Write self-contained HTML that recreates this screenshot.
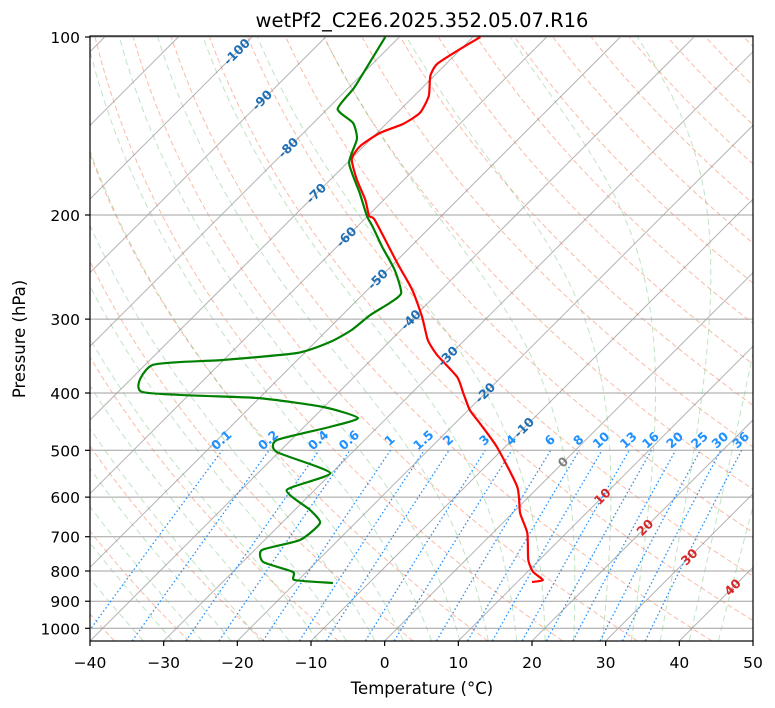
<!DOCTYPE html>
<html><head><meta charset="utf-8">
<style>
html,body{margin:0;padding:0;background:#fff;}
svg{display:block;font-family:"DejaVu Sans","Liberation Sans",sans-serif;}
</style></head>
<body>
<svg id="chart" width="775" height="708" viewBox="0 0 775 708">
<defs><clipPath id="plotclip"><rect x="90" y="36" width="663" height="605"/></clipPath></defs>
<rect x="0" y="0" width="775" height="708" fill="#fff"/>
<g id="bg" clip-path="url(#plotclip)"></g>
<g id="series" clip-path="url(#plotclip)"></g>
<g id="lbls"></g>
<rect x="90" y="36" width="663" height="605" fill="none" stroke="#000" stroke-width="1.2"/>
<g id="axes"></g>
<text x="422" y="27" text-anchor="middle" font-size="19.5">wetPf2_C2E6.2025.352.05.07.R16</text>
<text x="422" y="694" text-anchor="middle" font-size="16.5">Temperature (°C)</text>
<text transform="translate(25,339) rotate(-90)" text-anchor="middle" font-size="16.5">Pressure (hPa)</text>
</svg>
<script>
// ---- data ----
const tempPressure = [100,104.8,111.1,116.4,125.8,134.4,140.3,145.3,152.9,160.8,173.9,188.6,200.8,203.9,241.1,267.8,297.5,325.4,345.0,375.8,400.0,427.4,449.6,493.6,576.8,638.2,690.0,766.4,803.2,828.6,835.1];
const temperature  = [-69.0,-70.1,-71.2,-70.5,-68.0,-66.9,-67.7,-69.6,-70.5,-69.9,-66.5,-62.5,-59.8,-58.5,-49.6,-43.9,-38.9,-35.0,-31.7,-26.0,-23.0,-19.8,-16.7,-11.1,-2.9,1.0,4.7,8.5,10.8,13.2,12.0];
const dewPressure  = [100,115.0,122.4,132.4,139.8,148.8,163.4,183.6,200.8,209.6,226.6,247.8,271.0,281.7,295.2,313.0,328.0,342.3,351.8,358.7,398.4,407.9,422.4,440.9,456.7,480.4,503.3,546.2,583.6,630.9,663.6,709.0,737.2,772.5,803.2,828.6,838.4];
const dewpoint     = [-81.9,-80.0,-79.2,-78.6,-74.6,-71.9,-69.7,-64.2,-60.1,-57.8,-53.8,-49.0,-45.0,-45.2,-46.2,-46.7,-48.0,-51.0,-60.1,-69.0,-66.7,-50.3,-40.1,-33.9,-36.5,-41.9,-40.3,-30.2,-33.8,-27.9,-24.8,-25.2,-29.0,-27.2,-21.8,-20.5,-14.9];
const xTicks = [-40,-30,-20,-10,0,10,20,30,40,50];
const yTicks = [100,200,300,400,500,600,700,800,900,1000];
const mixingRatios = [0.1,0.2,0.4,0.6,1,1.5,2,3,4,6,8,10,13,16,20,25,30,36];
const mixingLabels = ["0.1","0.2","0.4","0.6","1","1.5","2","3","4","6","8","10","13","16","20","25","30","36"];
const isoLabelTemps = [-100,-90,-80,-70,-60,-50,-40,-30,-20,-10,0,10,20,30,40];
const isoLabelPress = [106,128,154,184,218,257,301,347,400,458,524,599,676,758,853];

// ---- axes ----
const X0=90,X1=753,Y0=37,YB=641,TMIN=-40,TMAX=50,PXC=(X1-X0)/(TMAX-TMIN),LN=256.8;
function yOf(p){return Y0+LN*Math.log(p/100);}
function xOf(T,p){const y=yOf(p);return X0+(T-TMIN)*PXC+(YB-y);}
const NS="http://www.w3.org/2000/svg";
function mk(tag,attrs,parent){const e=document.createElementNS(NS,tag);for(const k in attrs)e.setAttribute(k,attrs[k]);parent.appendChild(e);return e;}
function pathOf(ps,ts){return ps.map((p,i)=>(i?'L':'M')+xOf(ts[i],p).toFixed(1)+','+yOf(p).toFixed(1)).join('');}
function smoothOf(ps,ts){
  const K=10;
  const pts=ps.map((p,i)=>[xOf(ts[i],p),yOf(p)]);
  let d='M'+pts[0][0].toFixed(1)+','+pts[0][1].toFixed(1);
  for(let i=0;i<pts.length-1;i++){
    const p0=pts[Math.max(0,i-1)],p1=pts[i],p2=pts[i+1],p3=pts[Math.min(pts.length-1,i+2)];
    const c1=[p1[0]+(p2[0]-p0[0])/K,p1[1]+(p2[1]-p0[1])/K],c2=[p2[0]-(p3[0]-p1[0])/K,p2[1]-(p3[1]-p1[1])/K];
    d+='C'+c1[0].toFixed(1)+','+c1[1].toFixed(1)+' '+c2[0].toFixed(1)+','+c2[1].toFixed(1)+' '+p2[0].toFixed(1)+','+p2[1].toFixed(1);
  }
  return d;
}
const bg=document.getElementById('bg'),ser=document.getElementById('series'),lb=document.getElementById('lbls'),ax=document.getElementById('axes');
const pLevels=[];for(let p=1050;p>=95;p-=5)pLevels.push(p);

// dry adiabats
for(let t0=-40;t0<=210;t0+=10){
  const th=t0+273.15;const ts=pLevels.map(p=>th*Math.pow(p/1000,0.2857)-273.15);
  const e=mk('path',{d:pathOf(pLevels,ts),fill:'none',stroke:'#f4845f','stroke-opacity':'0.55','stroke-width':'1','stroke-dasharray':'5,3'},bg);
  
  
}
// moist adiabats
function esat(T){return 6.112*Math.exp(17.67*T/(T+243.5));}
function dTdp(p,T){const Tk=T+273.15,rs=0.622*esat(T)/(p-esat(T)),Rd=287.04,Lv=2.501e6,Cp=1005.7;
  return (Rd*Tk+Lv*rs)/(Cp+Lv*Lv*rs*0.622/(Rd*Tk*Tk))/p;}
for(let t0=-36;t0<=44;t0+=4){
  const up=[],dn=[];let T=t0;
  for(let p=1000;p>=100;p-=5){up.push([p,T]);T+= -5*dTdp(p-2.5,T+(-2.5*dTdp(p,T)));}
  T=t0;for(let p=1000;p<=1050;p+=5){dn.push([p,T]);T+=5*dTdp(p+2.5,T);}
  const pts=dn.reverse().concat(up.slice(1));
  const e=mk('path',{d:pathOf(pts.map(a=>a[0]),pts.map(a=>a[1])),fill:'none',stroke:'#4caf50','stroke-opacity':'0.35','stroke-width':'1','stroke-dasharray':'6,4'},bg);
  
  
}
// isotherms
for(let t=-130;t<=50;t+=10){
  const e=mk('line',{x1:xOf(t,1050),y1:yOf(1050),x2:xOf(t,100),y2:yOf(100),stroke:'#808080','stroke-opacity':'0.6','stroke-width':'1'},bg);
  
  
}
// isobars
yTicks.forEach(p=>{
  const e=mk('line',{x1:X0,x2:X1,y1:yOf(p),y2:yOf(p),stroke:'#a0a0a0','stroke-width':'1'},bg);
  
  
});
// mixing ratio lines
const mp=[];for(let p=1050;p>=500;p-=10)mp.push(p);
mixingRatios.forEach((w,i)=>{
  const ts=mp.map(p=>{const e=p*w/(622+w);const l=Math.log(e/6.112);return 243.5*l/(17.67-l);});
  const e=mk('path',{d:pathOf(mp,ts),fill:'none',stroke:'#1e90ff','stroke-width':'1.3','stroke-dasharray':'1.5,2.5'},bg);
  
  
  const lx=xOf(ts[ts.length-1],500)+2,ly=yOf(500)-7;
  if(lx<X1+5){
    const t=mk('text',{x:lx,y:ly,'font-size':'12.5','font-weight':'bold',fill:'#1e90ff','text-anchor':'middle',transform:`rotate(-42 ${lx} ${ly})`},lb);
    t.textContent=mixingLabels[i];
    
    
  }
});
// isotherm labels
isoLabelTemps.forEach((T,i)=>{
  const p=isoLabelPress[i],x=xOf(T,p),y=yOf(p)+4;
  const c=T<0?'#1f6fb4':(T===0?'#808080':'#d62728');
  const t=mk('text',{x:x,y:y,'font-size':'12.5','font-weight':'bold',fill:c,'text-anchor':'middle',transform:`rotate(-45 ${x} ${y-4})`},lb);
  t.textContent=String(T);
  
  
});
// series
const tl=mk('path',{d:smoothOf(tempPressure,temperature),fill:'none',stroke:'#ff0000','stroke-width':'2.2','stroke-linejoin':'round'},ser);


const dl=mk('path',{d:smoothOf(dewPressure,dewpoint),fill:'none',stroke:'#008000','stroke-width':'2.2','stroke-linejoin':'round'},ser);


// ticks
xTicks.forEach(t=>{
  const x=X0+(t-TMIN)*PXC;
  const l=mk('line',{x1:x,x2:x,y1:YB,y2:YB+5,stroke:'#000','stroke-width':'1.2'},ax);
  
  
  const tx=mk('text',{x:x,y:YB+27,'font-size':'15.5','text-anchor':'middle'},ax);
  tx.textContent=t<0?'\u2212'+(-t):String(t);
  
  
});
yTicks.forEach(p=>{
  const y=yOf(p);
  const l=mk('line',{x1:X0-5,x2:X0,y1:y,y2:y,stroke:'#000','stroke-width':'1.2'},ax);
  
  
  const tx=mk('text',{x:X0-10,y:y+6,'font-size':'15.5','text-anchor':'end'},ax);
  tx.textContent=String(p);
  
  
});
</script>
</body></html>
